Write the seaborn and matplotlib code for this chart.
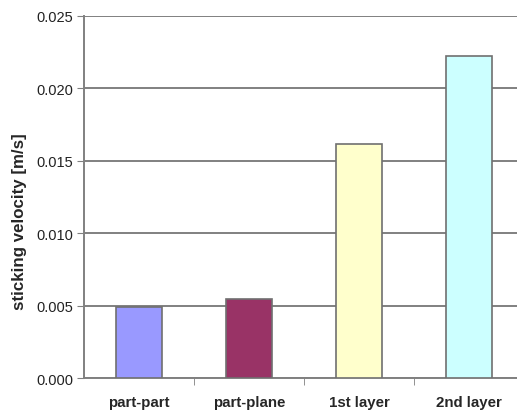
import matplotlib
matplotlib.use("Agg")
import matplotlib.pyplot as plt
import seaborn as sns
import pandas as pd
import numpy as np

# sticking velocity per contact case
categories = ["part-part", "part-plane", "1st layer", "2nd layer"]
velocity = [0.00489, 0.00546, 0.01618, 0.02227]
bar_colors = ["#9999FF", "#993366", "#FFFFCC", "#CCFFFF"]

df = pd.DataFrame({"case": categories, "v": velocity})

sns.set_style("white")
plt.rcParams["font.family"] = ["Liberation Sans", "DejaVu Sans"]

W, H = 517, 414
fig = plt.figure(figsize=(W / 100, H / 100), dpi=100)
ax = fig.add_axes([84 / W, 1 - 379.3 / H, 440 / W, 362.3 / H])

sns.barplot(data=df, x="case", y="v", hue="case", palette=bar_colors, saturation=1,
            width=0.41, edgecolor="#707070", linewidth=1.2, legend=False, ax=ax, zorder=3)

ax.set_ylim(0, 0.025)
ax.set_xlim(-0.5, 3.5)
ax.set_yticks(np.arange(0, 0.0251, 0.005))
ax.set_yticklabels([f"{t:.3f}" for t in np.arange(0, 0.0251, 0.005)], fontsize=10.5, color="#222222")
ax.yaxis.grid(True, color="#808080", linewidth=1.4, zorder=0)
ax.set_axisbelow(True)

ax.set_xticks(range(len(categories)))
ax.set_xticklabels(categories, fontsize=10.8, fontweight="bold")
ax.set_xticks([0.5, 1.5, 2.5], minor=True)
ax.tick_params(axis="x", which="major", length=0, pad=12)
ax.tick_params(axis="x", which="minor", length=5, color="#808080", direction="out", bottom=True)
ax.tick_params(axis="y", length=5, color="#808080", direction="out", left=True, pad=3)

for s in ["top", "right"]:
    ax.spines[s].set_visible(False)
ax.spines["left"].set_color("#808080")
ax.spines["left"].set_linewidth(1.4)
ax.spines["bottom"].set_color("#808080")
ax.spines["bottom"].set_linewidth(1.4)

ax.set_xlabel("")
ax.set_ylabel("sticking velocity [m/s]", fontsize=12.2, fontweight="bold")
ax.yaxis.set_label_coords(-57 / 440, (379.3 - 222) / 362.3)

fig.savefig("out.png", dpi=100)
